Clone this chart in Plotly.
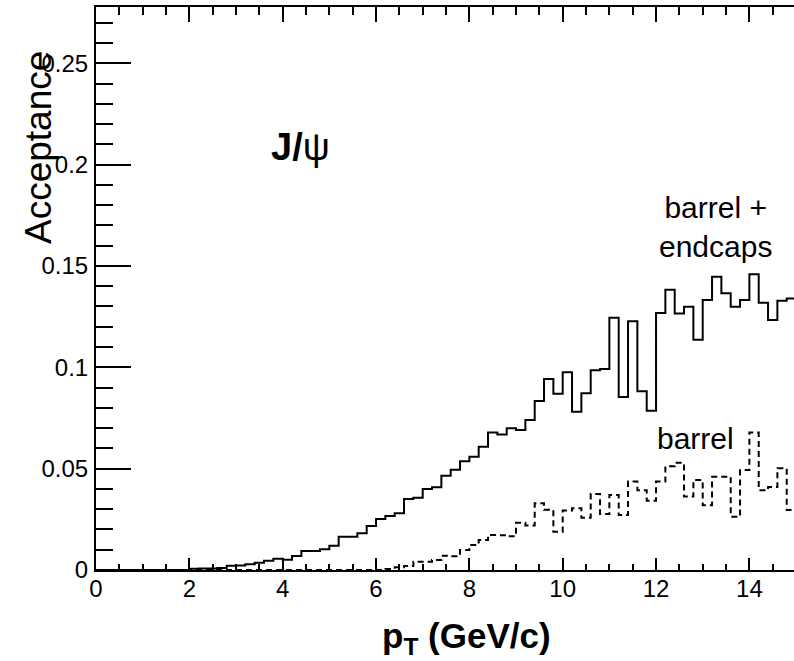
import numpy as np
import plotly.graph_objects as go

# pT bins: 75 bins of 0.2 GeV/c from 0 to 15
pt_edges = np.round(np.linspace(0.0, 15.0, 76), 2)

# Acceptance, barrel + endcaps (solid)
acc_all = [
    0, 0, 0, 0, 0, 0, 0, 0, 0, 0,
    0.0006, 0.0007, 0.0008, 0.0010, 0.0021, 0.0022, 0.0028, 0.0036, 0.0046, 0.0056,
    0.0050, 0.0069, 0.0094, 0.0094, 0.0102, 0.0120, 0.0164, 0.0164, 0.0181, 0.0217,
    0.0252, 0.0267, 0.0280, 0.0350, 0.0357, 0.0400, 0.0408, 0.0465, 0.0495, 0.0536,
    0.0559, 0.0608, 0.0678, 0.0668, 0.0699, 0.0691, 0.0740, 0.0834, 0.0942, 0.0870,
    0.0976, 0.0781, 0.0872, 0.0985, 0.0992, 0.1245, 0.0853, 0.1227, 0.0882, 0.0786,
    0.1268, 0.1383, 0.1266, 0.1299, 0.1136, 0.1332, 0.1447, 0.1365, 0.1299, 0.1332,
    0.1459, 0.1318, 0.1233, 0.1328, 0.1340,
]

# Acceptance, barrel only (dashed)
acc_barrel = [
    0, 0, 0, 0, 0, 0, 0, 0, 0, 0,
    0, 0, 0, 0, 0, 0, 0, 0, 0, 0,
    0, 0, 0, 0, 0, 0, 0, 0, 0, 0,
    0, 0.0005, 0.0013, 0.0020, 0.0041, 0.0041, 0.0049, 0.0070, 0.0068, 0.0099,
    0.0123, 0.0148, 0.0173, 0.0172, 0.0166, 0.0233, 0.0220, 0.0329, 0.0297, 0.0189,
    0.0293, 0.0305, 0.0258, 0.0375, 0.0276, 0.0370, 0.0271, 0.0436, 0.0393, 0.0342,
    0.0436, 0.0512, 0.0529, 0.0362, 0.0444, 0.0319, 0.0460, 0.0460, 0.0263, 0.0493,
    0.0678, 0.0393, 0.0410, 0.0502, 0.0296,
]

FONT = "Liberation Sans, Arial, Helvetica, sans-serif"

fig = go.Figure()
fig.add_trace(go.Scatter(
    x=pt_edges, y=acc_all + [acc_all[-1]], mode="lines", line_shape="hv",
    line=dict(color="black", width=2), showlegend=False, hoverinfo="skip"))
fig.add_trace(go.Scatter(
    x=pt_edges, y=acc_barrel + [acc_barrel[-1]], mode="lines", line_shape="hv",
    line=dict(color="black", width=2, dash="6px,4px"), showlegend=False, hoverinfo="skip"))
# invisible copy bound to the top (mirror) axis so that it gets drawn
fig.add_trace(go.Scatter(
    x=pt_edges, y=acc_all + [acc_all[-1]], mode="lines", xaxis="x2",
    line=dict(color="rgba(0,0,0,0)", width=0), showlegend=False, hoverinfo="skip"))

W, H = 794, 661
ml, mr, mt, mb = 96, 0, 7, 91
xmax = (W - ml - mr) / 46.67
ymax = (H - mt - mb) / 2027.0

fig.update_layout(
    width=W, height=H,
    margin=dict(l=ml, r=mr, t=mt, b=mb),
    paper_bgcolor="white", plot_bgcolor="white",
    font=dict(family=FONT, color="black"),
    xaxis=dict(
        range=[0, xmax], dtick=2, tick0=0, showgrid=False, zeroline=False,
        showline=True, linecolor="black", linewidth=2, layer="above traces",
        ticks="inside", ticklen=12, tickwidth=2, tickcolor="black",
        minor=dict(dtick=0.5, ticks="inside", ticklen=6, tickwidth=2, tickcolor="black", showgrid=False),
        tickfont=dict(size=24, family=FONT), ticklabelstandoff=-4,
    ),
    xaxis2=dict(
        overlaying="x", side="top", anchor="y",
        range=[0, xmax], dtick=2, tick0=0, showgrid=False, zeroline=False,
        showline=True, linecolor="black", linewidth=2, showticklabels=False,
        ticks="inside", ticklen=15, tickwidth=2, tickcolor="black",
        minor=dict(dtick=0.5, ticks="inside", ticklen=8, tickwidth=2, tickcolor="black", showgrid=False),
    ),
    yaxis=dict(
        range=[0, ymax], dtick=0.05, tick0=0, showgrid=False, zeroline=False,
        showline=True, linecolor="black", linewidth=2, layer="above traces",
        ticks="inside", ticklen=35, tickwidth=2, tickcolor="black",
        minor=dict(dtick=0.01, ticks="inside", ticklen=17, tickwidth=2, tickcolor="black", showgrid=False),
        tickfont=dict(size=24, family=FONT), ticklabelstandoff=1,
    ),
)

# axis titles and labels as annotations
fig.add_annotation(text="Acceptance", xref="paper", yref="paper",
                   x=(38 - ml) / (W - ml - mr), y=(H - mb - 148) / (H - mt - mb),
                   textangle=-90, showarrow=False, xanchor="center", yanchor="middle",
                   font=dict(size=37, family=FONT))
fig.add_annotation(text="<b>p<sub>T</sub> (GeV/c)</b>", xref="paper", yref="paper",
                   x=(466 - ml) / (W - ml - mr), y=(H - mb - 638) / (H - mt - mb),
                   showarrow=False, xanchor="center", yanchor="middle",
                   font=dict(size=35, family=FONT))
fig.add_annotation(text="<b>J/</b>ψ", xref="paper", yref="paper",
                   x=(269 - ml) / (W - ml - mr), y=(H - mb - 147) / (H - mt - mb),
                   showarrow=False, xanchor="left", yanchor="middle",
                   font=dict(size=38, family=FONT))
fig.add_annotation(text="barrel +<br>endcaps", xref="paper", yref="paper",
                   x=(715 - ml) / (W - ml - mr), y=(H - mb - 227) / (H - mt - mb),
                   showarrow=False, xanchor="center", yanchor="middle", align="center",
                   font=dict(size=30, family=FONT))
fig.add_annotation(text="barrel", xref="paper", yref="paper",
                   x=(695 - ml) / (W - ml - mr), y=(H - mb - 438) / (H - mt - mb),
                   showarrow=False, xanchor="center", yanchor="middle",
                   font=dict(size=30, family=FONT))

fig.write_html("out.html")
